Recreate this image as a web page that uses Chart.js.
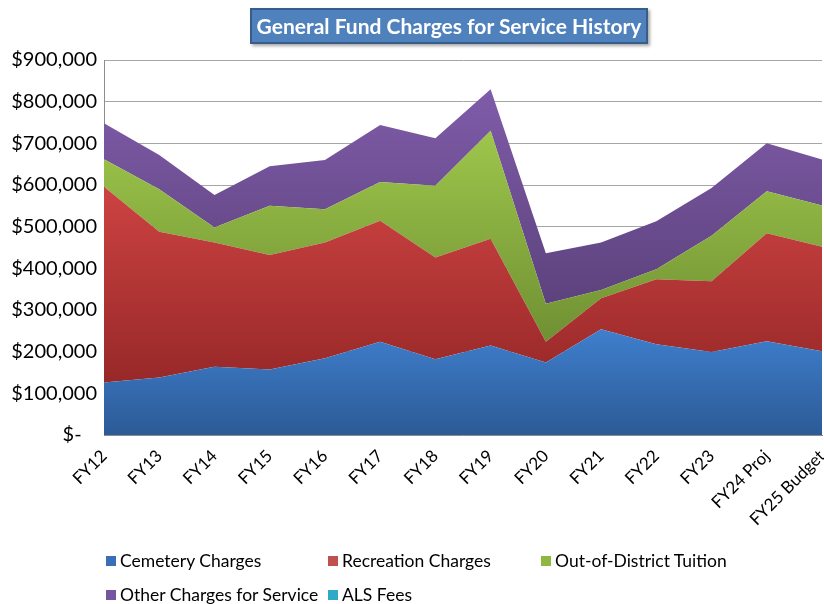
<!DOCTYPE html>
<html>
<head>
<meta charset="utf-8">
<script src="https://cdn.jsdelivr.net/npm/chart.js@4.4.1/dist/chart.umd.min.js"></script>
<style>
  body { margin: 0; background: #fff; }
  #wrap { position: relative; width: 824px; height: 604px; font-family: Lato, "Open Sans", sans-serif; }
  #title {
    position: absolute; left: 250px; top: 8px; width: 394px; height: 32px;
    background: #4f81bd; border: 2px solid #385d8a; box-shadow: 2px 2px 3px rgba(0,0,0,0.35);
    color: #fff; font-weight: bold; font-size: 21px; line-height: 32px; text-align: center;
  }
  .leg { position: absolute; font-size: 17.5px; color: #000; white-space: nowrap; line-height: 20px; }
  .leg i { display: inline-block; width: 10px; height: 10px; margin-right: 4px; vertical-align: 1px; }
</style>
</head>
<body>
<div id="wrap">
  <canvas id="chart" width="824" height="604"></canvas>
  <div id="title">General Fund Charges for Service History</div>
  <div id="legend"></div>
</div>
<script>
const categories = ['FY12', 'FY13', 'FY14', 'FY15', 'FY16', 'FY17', 'FY18', 'FY19', 'FY20', 'FY21', 'FY22', 'FY23', 'FY24 Proj', 'FY25 Budget'];
const cemetery   = [126000, 138000, 164000, 157000, 184000, 224000, 182000, 215000, 174000, 254000, 218000, 199000, 225000, 201000];
const recreation = [470000, 350000, 298000, 275000, 278000, 290000, 244000, 256000,  50000,  74000, 156000, 170000, 259000, 251000];
const tuition    = [ 66000, 102000,  36000, 118000,  80000,  93000, 172000, 259000,  91000,  20000,  24000, 109000, 101000,  99000];
const other      = [ 86000,  82000,  78000,  95000, 118000, 137000, 114000, 100000, 121000, 114000, 115000, 115000, 115000, 110000];
const alsFees    = [0, 0, 0, 0, 0, 0, 0, 0, 0, 0, 0, 0, 0, 0];
const yTicks = ['$-', '$100,000', '$200,000', '$300,000', '$400,000', '$500,000', '$600,000', '$700,000', '$800,000', '$900,000'];

const seriesNames = ['Cemetery Charges', 'Recreation Charges', 'Out-of-District Tuition', 'Other Charges for Service', 'ALS Fees'];
const seriesData = [cemetery, recreation, tuition, other, alsFees];
// top / bottom colours of each area's vertical gradient, plus legend swatch
const shades = [
  ['#3f7fcd', '#2c5a96', '#3a6fb5'],
  ['#cc4342', '#982828', '#c0504d'],
  ['#9ec64b', '#6f9033', '#8fb843'],
  ['#805ca9', '#5c427d', '#7554a0'],
  ['#4bacc6', '#31859c', '#2fa9c9']
];

// running totals, used to size each area's gradient
const cumulative = seriesData.map((s, i) =>
  s.map((v, k) => seriesData.slice(0, i + 1).reduce((a, d) => a + d[k], 0)));

function areaFill(c) {
  const chart = c.chart;
  const i = c.datasetIndex;
  if (!chart.chartArea) return shades[i][2];
  const y = chart.scales.y;
  const top = y.getPixelForValue(Math.max(...cumulative[i]));
  const bottom = y.getPixelForValue(i === 0 ? 0 : Math.min(...cumulative[i - 1]));
  if (!(bottom > top)) return shades[i][2];
  const g = chart.ctx.createLinearGradient(0, top, 0, bottom);
  g.addColorStop(0, shades[i][0]);
  g.addColorStop(1, shades[i][1]);
  return g;
}

const datasets = seriesNames.map((name, i) => ({
  label: name,
  data: seriesData[i],
  fill: i === 0 ? 'origin' : '-1',
  backgroundColor: areaFill,
  borderWidth: 0,
  pointRadius: 0,
  pointHoverRadius: 0,
  tension: 0
}));

new Chart(document.getElementById('chart'), {
  type: 'line',
  data: { labels: categories, datasets },
  options: {
    responsive: false,
    animation: false,
    devicePixelRatio: 1,
    layout: { padding: { left: 0, top: 60, right: 2, bottom: 69 } },
    plugins: { legend: { display: false }, tooltip: { enabled: false }, title: { display: false } },
    scales: {
      x: {
        offset: false,
        grid: { display: false, drawTicks: false },
        border: { display: true, color: '#8c8c8c' },
        ticks: {
          autoSkip: false, maxRotation: 45, minRotation: 45, padding: 11,
          color: '#000', font: { family: 'Lato', size: 17 }
        },
        afterFit: s => { s.height = 100; s.paddingLeft = 0; s.paddingRight = 0; }
      },
      y: {
        stacked: true,
        min: 0, max: 900000,
        grid: { color: '#a6a6a6', drawTicks: false },
        border: { display: true, color: '#8c8c8c' },
        ticks: {
          stepSize: 100000, padding: 7, color: '#000',
          font: { family: 'Lato', size: 20 },
          callback: (v, i) => i === 0 ? yTicks[0] + '   ' : yTicks[i]
        },
        afterFit: s => { s.width = 104; s.paddingTop = 0; s.paddingBottom = 0; }
      }
    }
  }
});

// legend laid out as a grid like the original
const legendCols = [106, 328, 541];
const legendRows = [551, 585];
const legend = document.getElementById('legend');
seriesNames.forEach((name, i) => {
  const el = document.createElement('div');
  el.className = 'leg';
  el.style.left = legendCols[i % 3] + 'px';
  el.style.top = legendRows[Math.floor(i / 3)] + 'px';
  el.innerHTML = '<i style="background:' + shades[i][2] + '"></i>' + name;
  legend.appendChild(el);
});
</script>
</body>
</html>
